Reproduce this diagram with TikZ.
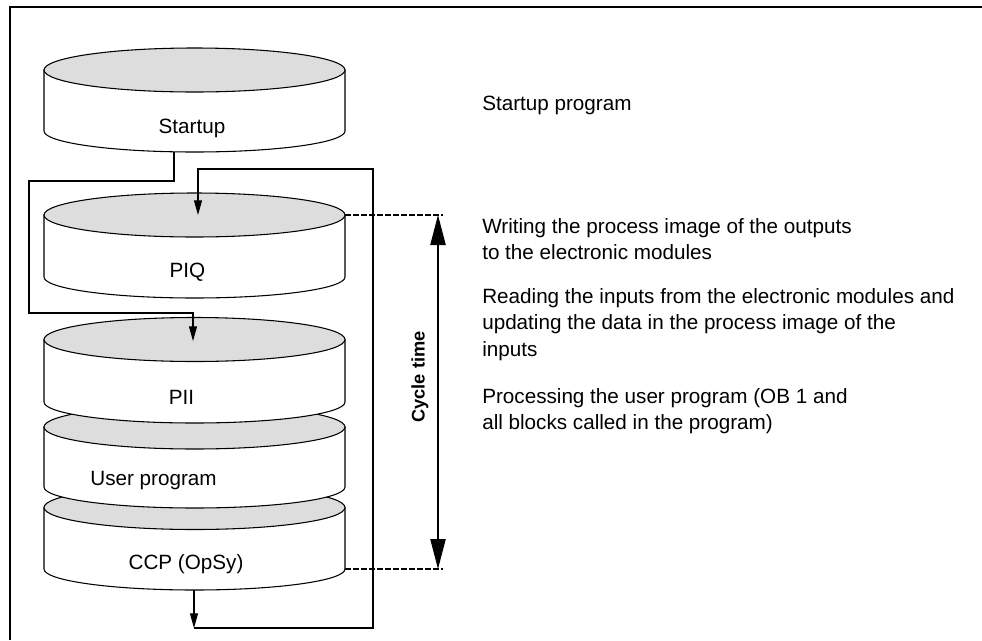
\documentclass[tikz,border=0pt]{standalone}
\usepackage{fontspec}
\setmainfont{Liberation Sans}
\usepackage{tikz}
\usetikzlibrary{arrows.meta}
\definecolor{drumgray}{RGB}{221,221,221}
\tikzset{
  pics/drum/.style={code={
    \filldraw[line width=0.8pt,fill=white](-150.5,0)--(-150.5,-#1)arc[start angle=180,end angle=360,x radius=150.5,y radius=21]--(150.5,0)--cycle;
    \filldraw[line width=0.8pt,fill=drumgray](0,0)ellipse[x radius=150.5,y radius=22];
  }}
}
\begin{document}
\begin{tikzpicture}[x=0.75pt,y=0.75pt,
  link/.style={line width=0.8pt,-{Triangle[length=11pt,width=6pt]}},
  dimline/.style={line width=1pt,dash pattern=on 4.5pt off 1.5pt},
  cycarrow/.style={line width=0.8pt,{Triangle[length=22.5pt,width=11.5pt]}-{Triangle[length=22.5pt,width=11.5pt]}},
  lbl/.style={inner sep=0pt,anchor=base,font=\fontsize{15.5pt}{19.9pt}\selectfont},
  note/.style={inner sep=0pt,anchor=north west,align=left,font=\fontsize{15.5pt}{19.9pt}\selectfont}]
\useasboundingbox(0,0)rectangle(982,-640);
\draw[line width=1.2pt](10,-640)--(10,-7)--(982,-7);
\pic at(194.5,-70){drum=61};
\pic at(194.5,-507.5){drum=61.5};
\pic at(194.5,-427){drum=60};
\pic at(194.5,-339.5){drum=62.5};
\pic at(194.5,-215){drum=62};
\node[lbl](startup)at(192,-133){Startup};
\node[lbl](piq)at(187.5,-277){PIQ};
\node[lbl](pii)at(181.5,-404){PII};
\node[lbl](user)at(153.5,-485){User program};
\node[lbl](ccp)at(186,-569){CCP (OpSy)};
\coordinate(startout)at(174,-152);
\coordinate(piqin)at(198,-215);
\coordinate(piiin)at(193,-341);
\coordinate(ccpout)at(194,-590);
\coordinate(ret)at(194,-628);
\coordinate(piqedge)at(345,-215);
\coordinate(ccpedge)at(345,-569);
\coordinate(ctop)at(438,-215);
\coordinate(cbot)at(438,-569);
\draw[link](startout)--++(0,-29)--(29,-181)--(29,-313)-|(piiin);
\draw[link](ccpout)--(ret);
\draw[link](ret)--(373,-628)--(373,-169)-|(piqin);
\draw[dimline](piqedge)--(443,-215);
\draw[dimline](ccpedge)--(443,-569);
\draw[cycarrow](ctop)--(cbot);
\node[inner sep=0pt,rotate=90,font=\fontsize{13.7pt}{16pt}\selectfont\bfseries](cycle)at(420,-377){Cycle time};
\node[note](n1)at(482,-96){Startup program};
\node[note](n2)at(482,-218){Writing the process image of the outputs\\to the electronic modules};
\node[note](n3)at(482,-288){Reading the inputs from the electronic modules and\\updating the data in the process image of the\\inputs};
\node[note](n4)at(482,-388){Processing the user program (OB 1 and\\all blocks called in the program)};
\end{tikzpicture}
\end{document}
